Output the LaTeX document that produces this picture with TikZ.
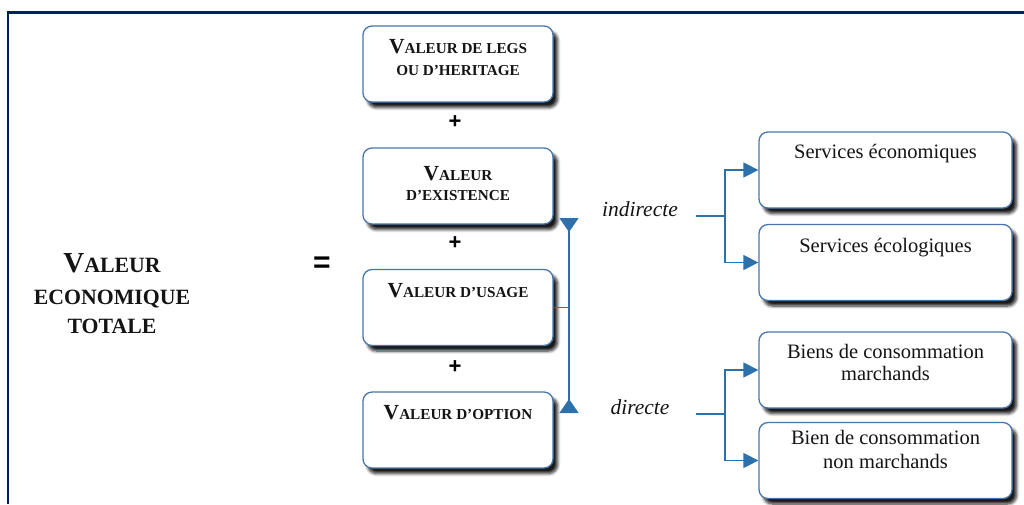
\documentclass[tikz,border=0pt]{standalone}
\usepackage{fontspec}
\setmainfont{Liberation Serif}
\newfontfamily\plusfont{Liberation Sans}
\usetikzlibrary{arrows.meta,shadows.blur}

\definecolor{frameblue}{RGB}{0,32,96}
\definecolor{boxline}{RGB}{72,118,172}
\definecolor{arrowblue}{RGB}{44,112,172}
\definecolor{inkdark}{RGB}{20,20,20}

% small-caps style headings: big initial, smaller capitals
\newcommand{\IniBox}[1]{{\fontsize{21.5}{22}\selectfont #1}}
\newcommand{\IniBig}[1]{{\fontsize{29}{29}\selectfont #1}}

\tikzset{
  box/.style={draw=boxline, line width=1.3pt, fill=white, rounded corners=9pt,
    minimum height=76pt, inner sep=0pt,
    blur shadow={shadow xshift=4.5pt, shadow yshift=-5.5pt, shadow opacity=90,
      shadow blur steps=6, shadow blur radius=3pt}},
  leftbox/.style={box, minimum width=190pt},
  rightbox/.style={box, minimum width=253pt},
  boxtitle/.style={anchor=base, inner sep=0pt, text=inkdark,
    font=\bfseries\fontsize{15.2}{16}\selectfont},
  bigtitle/.style={anchor=base, inner sep=0pt, text=inkdark,
    font=\bfseries\fontsize{21.8}{22}\selectfont},
  boxtext/.style={anchor=base, inner sep=0pt, text=inkdark,
    font=\fontsize{20.5}{22}\selectfont},
  branchlbl/.style={anchor=base, inner ysep=0pt, inner xsep=18pt, text=inkdark,
    font=\itshape\fontsize{21.5}{22}\selectfont},
  opsign/.style={inner sep=0pt, text=black, font=\plusfont\bfseries\fontsize{22}{22}\selectfont},
  conn/.style={draw=arrowblue, line width=1.4pt},
  arr/.style={conn, -{Triangle[length=15pt, width=15pt]}},
  capend/.style={conn, -{Triangle[reversed, length=14pt, width=19pt]}}
}

\begin{document}
\begin{tikzpicture}[x=1pt, y=-1pt]
\useasboundingbox (0,0) rectangle (1024,504);

% frame
\draw[frameblue, line width=2.6pt] (8,504) -- (8,12.5) -- (1030,12.5);

% total value heading
\node[bigtitle] (vt1) at (112,272) {\IniBig{V}ALEUR};
\node[bigtitle] (vt2) at (112,304) {ECONOMIQUE};
\node[bigtitle] (vt3) at (112,333) {TOTALE};
\node[opsign, font=\plusfont\bfseries\fontsize{30}{30}\selectfont] (eq) at (322,265) {=};

% value components
\node[leftbox] (b1) at (458,64) {};
\node[boxtitle] (b1a) at (458,53) {\IniBox{V}ALEUR DE LEGS};
\node[boxtitle] (b1b) at (458,75) {OU D’HERITAGE};
\node[opsign] (p1) at (455,122) {+};

\node[leftbox] (b2) at (458,186) {};
\node[boxtitle] (b2a) at (458,180) {\IniBox{V}ALEUR};
\node[boxtitle] (b2b) at (458,200) {D’EXISTENCE};
\node[opsign] (p2) at (455,243) {+};

\node[leftbox] (b3) at (458,307.5) {};
\node[boxtitle] (b3a) at (458,297) {\IniBox{V}ALEUR D’USAGE};
\node[opsign] (p3) at (455,367) {+};

\node[leftbox] (b4) at (458,430) {};
\node[boxtitle] (b4a) at (458,419) {\IniBox{V}ALEUR D’OPTION};

% use value split
\coordinate (vj) at (569,307.5);
\coordinate (vtop) at (569,218);
\coordinate (vbot) at (569,413);
\draw[conn] (b3.east) -- (vj);
\draw[capend] (vj) -- (vtop);
\draw[capend] (vj) -- (vbot);

\node[branchlbl] (ind) at (640,216) {indirecte};
\node[branchlbl, inner xsep=26pt] (dir) at (640,414) {directe};

% service and goods boxes
\node[rightbox] (r1) at (885.5,170) {};
\node[boxtext] (r1a) at (885.5,158) {Services économiques};
\node[rightbox] (r2) at (885.5,262.5) {};
\node[boxtext] (r2a) at (885.5,252) {Services écologiques};
\node[rightbox] (r3) at (885.5,370) {};
\node[boxtext] (r3a) at (885.5,358) {Biens de consommation};
\node[boxtext] (r3b) at (885.5,380) {marchands};
\node[rightbox] (r4) at (885.5,460.5) {};
\node[boxtext] (r4a) at (885.5,444) {Bien de consommation};
\node[boxtext] (r4b) at (885.5,468) {non marchands};

% branch connectors
\coordinate (ij) at (725,216);
\coordinate (dj) at (725,414);
\draw[conn] (ind.base east) -- (ij);
\draw[arr] (ij) |- (r1.west);
\draw[arr] (ij) |- (r2.west);
\draw[conn] (dir.base east) -- (dj);
\draw[arr] (dj) |- (r3.west);
\draw[arr] (dj) |- (r4.west);
\end{tikzpicture}
\end{document}
